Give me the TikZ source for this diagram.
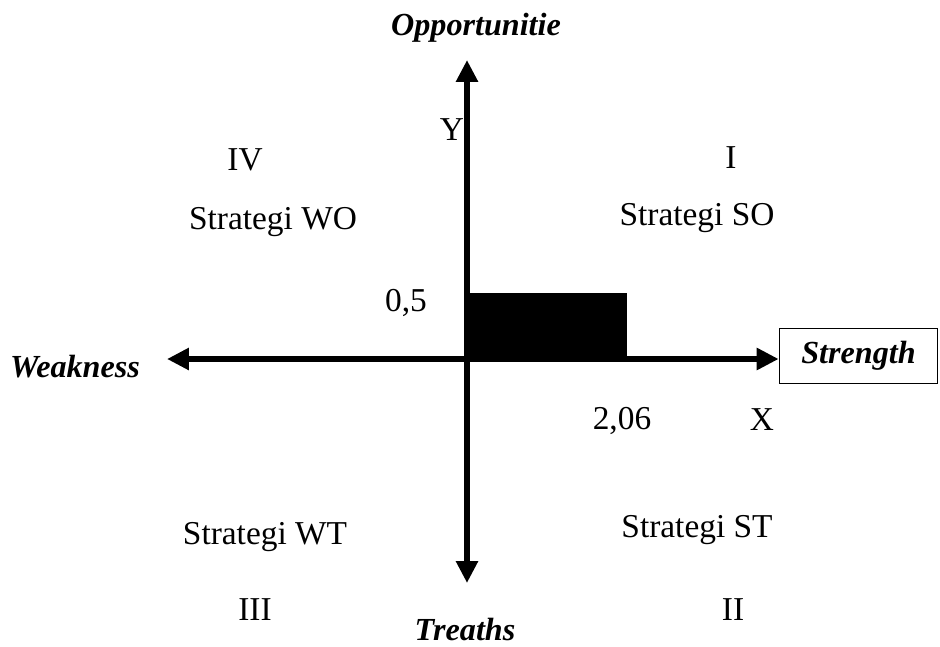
\documentclass[tikz,border=0pt]{standalone}
\usepackage{fontspec}
\setmainfont{Liberation Serif}
\usetikzlibrary{arrows.meta,positioning}
\tikzset{
  axis/.style={
    line width=3.1pt,
    -{Triangle[length=12.5pt,width=12pt]}
  },
  txt/.style={
    font=\fontsize{19}{22}\selectfont,
    inner sep=1.5pt
  },
  axisname/.style={
    font=\fontsize{18.3}{21}\selectfont\bfseries\itshape,
    inner sep=1.5pt
  }
}

\begin{document}
\begin{tikzpicture}[x=0.02cm,y=-0.02cm]
    \useasboundingbox (0,0) rectangle (940,646);

    % titik pusat dan ujung sumbu
    \coordinate (O) at (467,359);
    \coordinate (top) at (467,60);
    \coordinate (bottom) at (467,583);
    \coordinate (left) at (167,359);

    % kotak Strength
    \node[axisname,draw,line width=1pt,minimum width=3.16cm,minimum height=1.1cm]
        (strength) at (858.5,356) {Strength};

    % posisi (2,06 ; 0,5)
    \fill (O) rectangle (627,293);

    % sumbu
    \draw[axis] (O) -- (top);
    \draw[axis] (O) -- (bottom);
    \draw[axis] (O) -- (left);
    \draw[axis] (O) -- (O -| strength.west);

    % nama sumbu
    \node[axisname] (opp) at (476,28) {Opportunitie};
    \node[axisname] (treat) at (465,630) {Treaths};
    \node[axisname] (weak) at (75,367) {Weakness};
    \node[txt] (Y) at (452,130) {Y};
    \node[txt] (X) at (762,420) {X};
    \node[txt] (yval) at (406,303) {0,5};
    \node[txt] (xval) at (622,421) {2,06};

    % kuadran
    \node[txt] (q1) at (731,158) {I};
    \node[txt] (q2) at (733,610) {II};
    \node[txt] (q3) at (255,610) {III};
    \node[txt] (q4) at (245,160) {IV};
    \node[txt] (so) at (697,218) {Strategi SO};
    \node[txt] (st) at (697,530) {Strategi ST};
    \node[txt] (wt) at (265,537) {Strategi WT};
    \node[txt] (wo) at (273,222) {Strategi WO};
\end{tikzpicture}
\end{document}
